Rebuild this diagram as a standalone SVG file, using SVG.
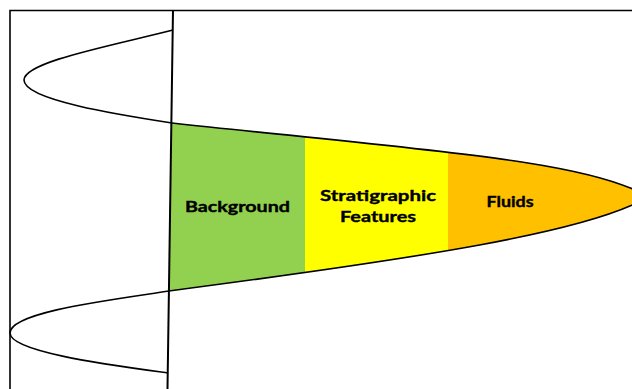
<svg xmlns="http://www.w3.org/2000/svg" width="632" height="389" viewBox="0 0 632 389">
<style>
.ln{fill:none;stroke:#000;stroke-width:1.6}
.lbl{font-family:Lato,"Open Sans","Liberation Sans",sans-serif;font-weight:bold;font-size:16px;fill:#000;stroke:#000;stroke-width:0.4}
</style>
<defs>
<clipPath id="lobe">
<path d="M172,123 C420,150 590,160 648,197 C590,232 420,258 169,291 Z"/>
</clipPath>
</defs>
<rect width="632" height="389" fill="#fff"/>
<g id="frame">
<path class="ln" d="M10,389 V10.5 H632"/>
</g>
<g id="fills" clip-path="url(#lobe)">
<rect x="160" y="100" width="145" height="220" fill="#92D050"/>
<rect x="305" y="100" width="143" height="220" fill="#FFFF00"/>
<rect x="448" y="100" width="210" height="220" fill="#FFC000"/>
</g>
<g id="wavelet">
<path class="ln" d="M173,30 C110,46 24,62 24,80 C24,100 120,115 172,123"/>
<path class="ln" d="M172,123 C420,150 590,160 648,197 C590,232 420,258 169,291"/>
<path class="ln" d="M169,291 C110,300 10,312 10,333 C10,352 110,365 168,373"/>
</g>
<g id="axis">
<line x1="173" y1="10" x2="167.5" y2="389" stroke="#000" stroke-width="2"/>
</g>
<g id="background">
<text class="lbl" x="185" y="212" textLength="105" lengthAdjust="spacingAndGlyphs">Background</text>
</g>
<g id="stratigraphic">
<text class="lbl" x="320" y="201" textLength="116" lengthAdjust="spacingAndGlyphs">Stratigraphic</text>
<text class="lbl" x="340" y="222" textLength="76" lengthAdjust="spacingAndGlyphs">Features</text>
</g>
<g id="fluids">
<text class="lbl" x="486.5" y="207" textLength="47" lengthAdjust="spacingAndGlyphs">Fluids</text>
</g>
</svg>
